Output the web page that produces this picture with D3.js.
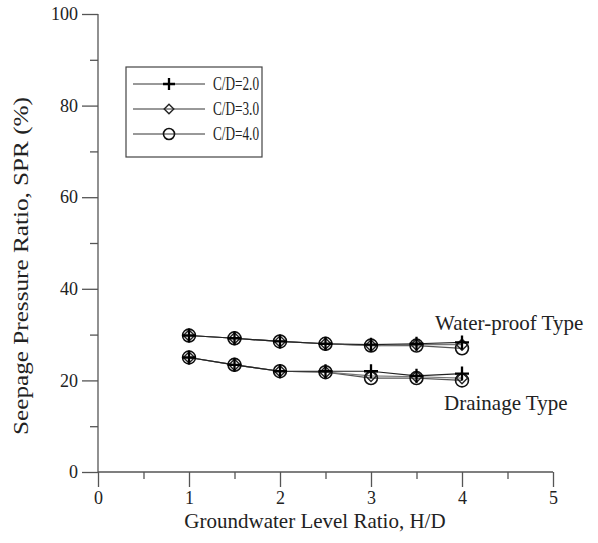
<!DOCTYPE html>
<html>
<head>
<meta charset="UTF-8" />
<script src="https://d3js.org/d3.v7.min.js"></script>
<style>
  body { margin: 0; background: #fff; }
  svg { font-family: "Liberation Serif", "DejaVu Serif", serif; }
</style>
</head>
<body>
<div id="chart"></div>
<script>
// ratio H/D
const ratios = [1, 1.5, 2, 2.5, 3, 3.5, 4]
const seriesNames = ['C/D=2.0', 'C/D=3.0', 'C/D=4.0']
const markers = ['plus', 'diamond', 'circle']

// water-proof type
const wp20 = [29.8, 29.2, 28.5, 28.0, 27.8, 28.0, 28.3]
const wp30 = [29.8, 29.2, 28.5, 28.0, 27.6, 27.8, 27.8]
const wp40 = [29.8, 29.2, 28.5, 28.0, 27.6, 27.6, 27.0]
// drainage type
const dr20 = [25.0, 23.4, 22.0, 22.0, 22.0, 21.0, 21.5]
const dr30 = [25.0, 23.4, 22.0, 21.8, 21.0, 20.8, 20.5]
const dr40 = [25.0, 23.4, 22.0, 21.8, 20.5, 20.5, 20.0]

const xTicks = [0, 1, 2, 3, 4, 5]
const yTicks = [0, 20, 40, 60, 80, 100]

const width = 598, height = 543
const margin = { top: 14, right: 45, bottom: 71, left: 98 }
const w = width - margin.left - margin.right
const h = height - margin.top - margin.bottom

const svg = d3.select('#chart').append('svg')
  .attr('width', width).attr('height', height)
const g = svg.append('g')
  .attr('transform', `translate(${margin.left}, ${margin.top})`)

const x = d3.scaleLinear().domain([0, 5]).range([0, w])
const y = d3.scaleLinear().domain([0, 100]).range([h, 0])

// axes: major ticks + minor ticks
const xAxis = g.append('g').attr('transform', `translate(0, ${h})`)
  .call(d3.axisBottom(x).tickValues(xTicks).tickFormat(d3.format('d')).tickSize(15).tickPadding(4))
xAxis.append('g').call(d3.axisBottom(x).tickValues([0.5, 1.5, 2.5, 3.5, 4.5]).tickSize(7).tickFormat(''))
  .select('.domain').remove()

const yAxis = g.append('g')
  .call(d3.axisLeft(y).tickValues(yTicks).tickSize(16).tickPadding(4))
yAxis.append('g').call(d3.axisLeft(y).tickValues([10, 30, 50, 70, 90]).tickSize(8).tickFormat(''))
  .select('.domain').remove()

g.selectAll('.domain').attr('stroke', '#555').attr('stroke-width', 1.3)
g.selectAll('.tick line').attr('stroke', '#555').attr('stroke-width', 1.3)
g.selectAll('.tick text').style('font-size', '18px').style('font-family', 'Liberation Serif').attr('fill', '#222')
xAxis.selectAll('.domain').attr('d', `M0,0H${w}`)
yAxis.selectAll('.domain').attr('d', `M0,${h}V0`)

// axis titles
svg.append('text')
  .attr('x', 315).attr('y', 528)
  .attr('text-anchor', 'middle')
  .style('font-size', '21px').attr('fill', '#222')
  .text('Groundwater Level Ratio, H/D')
svg.append('text')
  .attr('transform', 'translate(28, 266) rotate(-90) scale(1.2, 1)')
  .attr('text-anchor', 'middle')
  .style('font-size', '21px').attr('fill', '#222')
  .text('Seepage Pressure Ratio, SPR (%)')

// marker drawing
function drawMarker(sel, type, size) {
  if (type === 'plus') {
    sel.append('path')
      .attr('d', `M${-size},0H${size}M0,${-size}V${size}`)
      .attr('stroke', '#000').attr('stroke-width', 2.3).attr('fill', 'none')
  } else if (type === 'diamond') {
    const s = size * 0.8
    sel.append('path')
      .attr('d', `M0,${-s}L${s},0L0,${s}L${-s},0Z`)
      .attr('stroke', '#222').attr('stroke-width', 1.4).attr('fill', 'none')
  } else {
    sel.append('circle').attr('r', size * 0.92)
      .attr('stroke', '#111').attr('stroke-width', 1.6).attr('fill', 'none')
  }
}

const lineColors = ['#222', '#777', '#555']
const groups = [[wp20, wp30, wp40], [dr20, dr30, dr40]]
const line = d3.line().x(d => x(d[0])).y(d => y(d[1]))

groups.forEach(grp => {
  // lines first, drawn back to front
  grp.slice().reverse().forEach((vals, ri) => {
    const i = grp.length - 1 - ri
    g.append('path')
      .datum(ratios.map((r, k) => [r, vals[k]]))
      .attr('d', line)
      .attr('fill', 'none')
      .attr('stroke', lineColors[i])
      .attr('stroke-width', 1.2)
  })
  grp.slice().reverse().forEach((vals, ri) => {
    const i = grp.length - 1 - ri
    ratios.forEach((r, k) => {
      const m = g.append('g').attr('transform', `translate(${x(r)}, ${y(vals[k])})`)
      drawMarker(m, markers[i], 7)
    })
  })
})

// curve labels
g.append('text').attr('x', x(4) - 27).attr('y', y(31))
  .style('font-size', '21px').attr('fill', '#222')
  .text('Water-proof Type')
g.append('text').attr('x', x(4) - 18).attr('y', y(13.5))
  .style('font-size', '21px').attr('fill', '#222')
  .text('Drainage Type')

// legend
const lg = svg.append('g').attr('transform', 'translate(126, 67)')
lg.append('rect').attr('width', 136).attr('height', 90)
  .attr('fill', '#fff').attr('stroke', '#444').attr('stroke-width', 1.2)
seriesNames.forEach((name, i) => {
  const row = lg.append('g').attr('transform', `translate(0, ${17 + i * 25})`)
  row.append('path').attr('d', 'M7,0H79')
    .attr('stroke', '#333').attr('stroke-width', 1).attr('fill', 'none')
  const m = row.append('g').attr('transform', 'translate(43, 0)')
  drawMarker(m, markers[i], 6)
  row.append('text').attr('x', 87).attr('y', 6)
    .style('font-size', '18px').attr('fill', '#222')
    .attr('textLength', 46).attr('lengthAdjust', 'spacingAndGlyphs')
    .text(name)
})
</script>
</body>
</html>
